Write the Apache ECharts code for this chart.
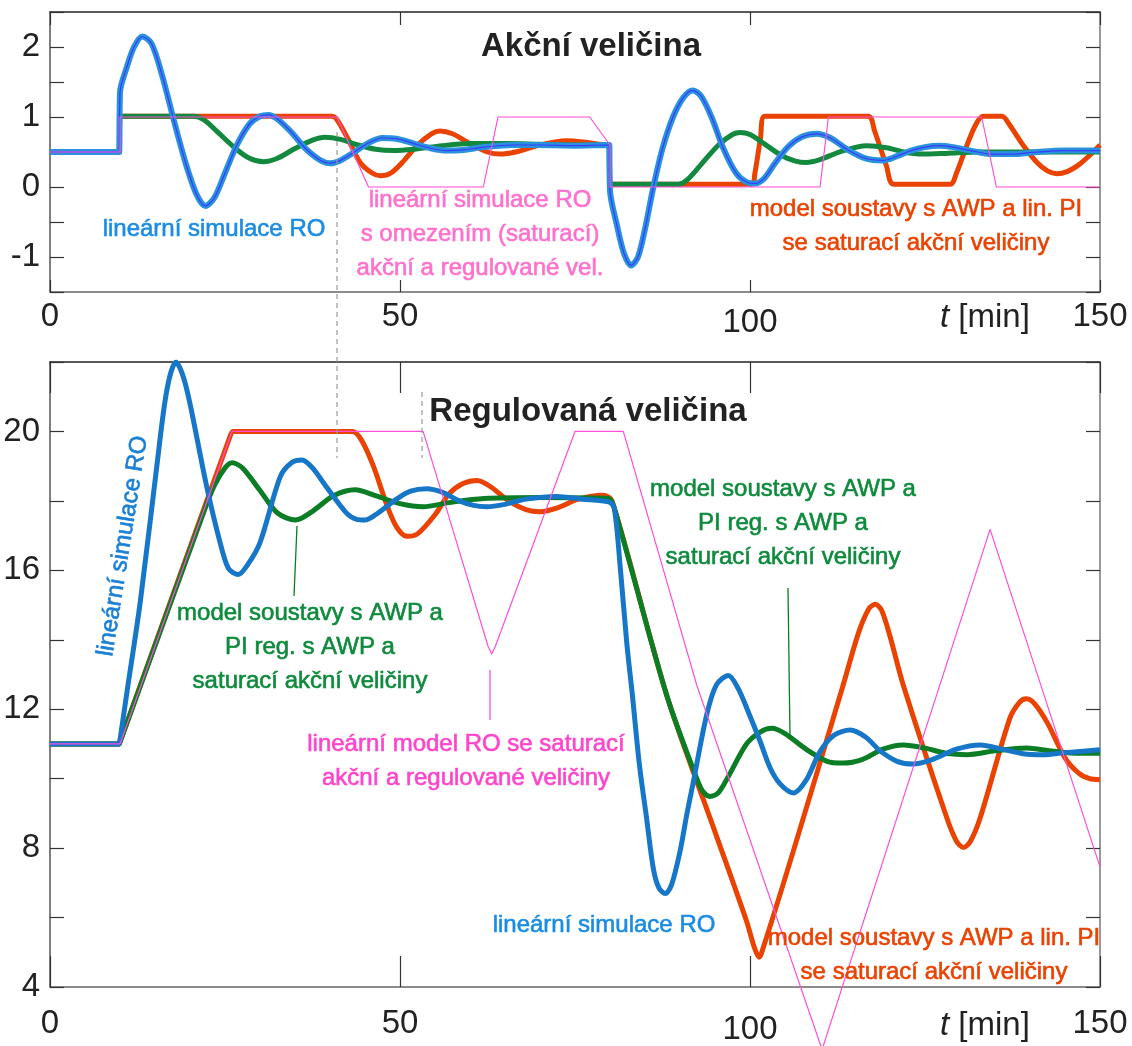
<!DOCTYPE html>
<html>
<head>
<meta charset="utf-8">
<script src="https://cdn.jsdelivr.net/npm/echarts@6/dist/echarts.min.js"></script>
<style>
  html, body { margin: 0; padding: 0; background: #fff; }
  #chart { width: 1132px; height: 1046px; }
</style>
</head>
<body>
<div id="chart"></div>
<script>
// time axis [min]
var tTicks = [0, 50, 100, 150];

// Akční veličina (top plot), points [t, u]
var uLin = [[0,0.5],[9.9,0.5],[10,0.5],[10,1.35],[11,1.72],[12,2.0],[13.2,2.15],[14.5,2.05],[16,1.6],[17.7,0.95],[19.5,0.3],[21,-0.12],[22.2,-0.27],[23.5,-0.15],[25,0.2],[26.7,0.6],[28.5,0.9],[30,1.01],[31.2,1.03],[32.5,0.97],[34.5,0.78],[36.5,0.55],[38.5,0.39],[40,0.34],[41.5,0.38],[43.5,0.5],[45.5,0.63],[47.5,0.7],[49.5,0.69],[52,0.62],[54.5,0.55],[56.7,0.52],[59,0.53],[62,0.57],[66,0.6],[70,0.6],[75,0.59],[79.9,0.6],[80,0.6],[80,-0.05],[81,-0.55],[82,-0.95],[83,-1.12],[84,-1.0],[85,-0.6],[86.2,0.0],[87.5,0.55],[89,1.0],[90.5,1.28],[91.8,1.38],[93,1.3],[94.5,1.0],[96.2,0.55],[98,0.2],[99.5,0.07],[100.7,0.05],[102,0.12],[103.5,0.33],[105.5,0.58],[107.5,0.72],[109.5,0.76],[111.5,0.7],[114,0.53],[116.5,0.41],[119,0.38],[121,0.44],[123,0.52],[125,0.57],[127,0.59],[129,0.57],[131.5,0.52],[134.5,0.47],[137.5,0.47],[141,0.5],[145,0.52],[150,0.52]];
var uAwp = [[0,0.5],[9.9,0.5],[10,0.5],[10,1.01],[20.5,1.01],[22,0.96],[24,0.78],[26.5,0.55],[28.5,0.41],[30.5,0.36],[32.5,0.41],[35,0.55],[37.5,0.67],[39.3,0.71],[41.5,0.68],[44,0.6],[46.5,0.54],[49,0.52],[52,0.54],[56,0.59],[60,0.62],[65,0.62],[70,0.61],[75,0.6],[79.9,0.6],[80,0.6],[80,0.04],[89.8,0.04],[91,0.1],[93,0.32],[95.5,0.6],[97.5,0.75],[98.6,0.78],[100,0.75],[102,0.62],[104.5,0.45],[106.5,0.37],[108,0.35],[110,0.39],[113,0.51],[116.7,0.59],[119.5,0.56],[122,0.5],[124.5,0.47],[128,0.48],[133,0.5],[140,0.5],[150,0.5]];
var uAwpLin = [[0,0.5],[9.9,0.5],[10,0.5],[10,1.01],[40.3,1.01],[41,0.96],[42.5,0.7],[44.3,0.35],[46,0.2],[47.2,0.16],[48.7,0.2],[50.5,0.37],[52.5,0.6],[54.5,0.76],[55.7,0.8],[57.5,0.76],[60,0.62],[62.5,0.5],[64.3,0.47],[66.5,0.5],[70,0.6],[73.8,0.66],[76.5,0.64],[79.9,0.6],[80,0.6],[80,0.04],[100.2,0.04],[100.7,0.2],[101.5,0.7],[102.1,1.01],[116.9,1.01],[117.8,0.8],[119.5,0.3],[120.5,0.04],[128.6,0.04],[129.5,0.2],[131,0.6],[132.3,0.9],[133.3,1.01],[136,1.01],[137,0.9],[139,0.6],[141,0.35],[142.5,0.23],[143.8,0.19],[145.3,0.22],[147,0.32],[148.5,0.45],[150,0.6]];
var uSat = [[0,0.5],[10,0.5],[10,1],[41,1],[45.5,0],[61.9,0],[64,1],[77.1,1],[80,0.6],[80,0],[110,0],[111.2,1],[133.1,1],[135.2,0],[150,0]];

// Regulovaná veličina (bottom plot), points [t, y]
var yLin = [[0,11],[9.9,11],[10,11],[11,12.5],[12.9,15.1],[15.2,18.9],[16.7,21.2],[18,22.0],[19,21.6],[20,20.8],[22.4,18.4],[24.3,16.8],[25.5,16.05],[26.9,15.88],[28.2,16.15],[30,16.8],[32.9,18.7],[34.5,19.1],[36,19.18],[37.5,18.95],[39.5,18.4],[42.4,17.64],[43.8,17.47],[45,17.45],[46.5,17.6],[49.5,18.05],[51.5,18.28],[53.8,18.35],[56,18.25],[58.5,18.0],[60.5,17.87],[62.4,17.83],[65,17.9],[68,18.05],[72.4,18.13],[76,18.05],[79.8,17.97],[80.6,17.8],[81.5,16.0],[82.4,13.9],[83.2,12.4],[84.2,10.4],[85.2,8.9],[86.2,7.4],[87,6.85],[87.9,6.69],[88.8,6.95],[90,7.9],[91,9.0],[91.9,9.9],[93.8,11.83],[95.2,12.7],[96.9,12.97],[98.3,12.6],[99.8,11.9],[101.4,11.1],[102.9,10.3],[104.3,9.85],[106.2,9.59],[108,9.95],[110,10.78],[112,11.25],[114.3,11.4],[116.5,11.2],[118.6,10.8],[121,10.5],[123.3,10.42],[126,10.55],[129.5,10.85],[132.9,10.97],[136,10.85],[139,10.72],[141.9,10.69],[145,10.75],[150,10.83]];
var yAwp = [[0,11],[9.9,11],[10,11],[22,17.7],[23.5,18.45],[25,18.95],[26,19.1],[27.5,18.95],[30,18.3],[32.5,17.65],[35.1,17.45],[37.5,17.7],[40.5,18.15],[43.6,18.32],[46.5,18.15],[50,17.92],[53.3,17.83],[57,17.95],[62,18.07],[70,18.1],[79.8,18.07],[80.6,17.8],[88.1,12.4],[92.4,10.0],[93.3,9.62],[94.3,9.49],[95.5,9.6],[97,10.1],[99.5,11.0],[101.5,11.35],[103.1,11.45],[105,11.3],[108,10.85],[111,10.5],[113.3,10.45],[116,10.55],[119,10.85],[121.9,10.97],[125,10.88],[128,10.73],[131,10.69],[135,10.8],[139.5,10.88],[143,10.8],[147,10.73],[150,10.73]];
var yAwpLin = [[0,11],[9.9,11],[10,11],[25.8,19.9],[26.2,20],[43.2,20],[44.5,19.75],[46.2,19.0],[48,17.95],[49.5,17.25],[51,16.98],[52.5,17.05],[55,17.6],[57,18.2],[59,18.5],[61,18.59],[63,18.4],[65.5,18.0],[68,17.75],[70,17.69],[72.5,17.8],[75.5,18.05],[79,18.16],[80.3,18.0],[88.1,12.4],[95,8.47],[99.5,5.9],[100.6,5.15],[101.3,4.86],[102,5.2],[106.2,7.92],[113.3,12.69],[115.5,14.2],[117,14.9],[117.9,15.02],[118.8,14.85],[120,14.1],[121.9,12.69],[128.1,8.88],[129.5,8.2],[130.5,8.02],[131.5,8.2],[132.9,8.88],[137.1,11.73],[138.5,12.2],[139.5,12.3],[140.7,12.15],[142.5,11.6],[145,10.6],[147,10.15],[148.5,10.0],[150,9.97]];
var ySat = [[0,11],[10,11],[26,20],[53.3,20],[62.6,13.8],[63.1,13.59],[63.6,13.8],[75,20],[81.9,20],[92.4,12.69],[110.3,2.2],[134.3,17.18],[150,7.46]];

var FONT = '"Liberation Sans", Arial, Helvetica, sans-serif';
var BLUE = '#2a92dc', BLUE2 = '#1677c8', ORANGE = '#ea4200', GREEN = '#13893f', GREEN2 = '#0b7d25', PINK = '#ff4fd8';

function xAx(grid, pos, tick, labels, margin) {
    return {
        type: 'value', gridIndex: grid, position: pos, min: 0, max: 150, interval: 50,
        axisLine: { show: true, onZero: false, lineStyle: { color: pos == 'top' ? '#222' : '#666', width: 1.5 } },
        axisTick: { show: true, inside: true, length: tick, lineStyle: { color: '#333', width: 1.2 } },
        axisLabel: {
            show: labels, fontSize: 33, color: '#222', fontFamily: FONT, margin: margin,
            showMinLabel: true, showMaxLabel: true,
            formatter: function (v) { return v == 100 ? '{d|100}' : String(v); },
            rich: { d: { fontSize: 33, color: '#222', fontFamily: FONT, padding: [6, 0, 0, 0] } }
        },
        splitLine: { show: false }
    };
}
function yAx(grid, pos, min, max, step, every) {
    return {
        type: 'value', gridIndex: grid, position: pos, min: min, max: max, interval: step,
        axisLine: { show: true, onZero: false, lineStyle: { color: pos == 'left' ? '#555' : '#777', width: 1.5 } },
        axisTick: { show: true, inside: true, length: 14, lineStyle: { color: '#333', width: 1.2 } },
        axisLabel: {
            show: pos == 'left', fontSize: 33, color: '#222', fontFamily: FONT, margin: 10,
            formatter: function (v) { return Math.abs(v / every - Math.round(v / every)) < 1e-9 ? String(v) : ''; }
        },
        splitLine: { show: false }
    };
}
function line(name, data, xi, yi, color, width, z, extra) {
    var s = {
        name: name, type: 'line', data: data, xAxisIndex: xi, yAxisIndex: yi,
        showSymbol: false, smooth: 0.3, z: z,
        lineStyle: { color: color, width: width, join: 'round' }, animation: false
    };
    for (var k in extra) s[k] = extra[k];
    return s;
}
// annotation text, a thin stroke of the same colour makes it as heavy as in the original
function txt(x, y, text, color, size, extra) {
    var e = {
        type: 'text', x: x, y: y, z: 100,
        style: { text: text, fill: color, stroke: color, lineWidth: 0.6, font: size + 'px ' + FONT,
                 align: 'center', verticalAlign: 'middle', textAlign: 'center', textVerticalAlign: 'middle', lineHeight: 34 }
    };
    for (var k in extra) e[k] = extra[k];
    return e;
}
function title(x, y, text) {
    return { type: 'text', x: x, y: y, z: 100,
             style: { text: text, fill: '#222', font: 'bold 33px ' + FONT, align: 'center', verticalAlign: 'middle',
                      textAlign: 'center', textVerticalAlign: 'middle' } };
}
function tLabel(x, y) {
    return { type: 'text', x: x, y: y, z: 100,
             style: { rich: { i: { fontStyle: 'italic', fontSize: 33, fontFamily: FONT, fill: '#222' } },
                      text: '{i|t} [min]', fill: '#222', font: '33px ' + FONT, verticalAlign: 'middle', textVerticalAlign: 'middle' } };
}
function seg(x1, y1, x2, y2, color, dash) {
    return { type: 'line', z: 90, shape: { x1: x1, y1: y1, x2: x2, y2: y2 },
             style: { stroke: color, lineWidth: dash ? 1.2 : 1.3, lineDash: dash ? [5, 4] : null } };
}

var chart = echarts.init(document.getElementById('chart'), null, { renderer: 'canvas' });
chart.setOption({
    backgroundColor: '#fff',
    animation: false,
    grid: [
        { left: 50, top: 12, width: 1050, height: 280 },
        { left: 50, top: 362, width: 1050, height: 632 }
    ],
    xAxis: [xAx(0, 'bottom', 12, true, 8), xAx(0, 'top', 13, false, 0),
            xAx(1, 'bottom', 31, true, 20), xAx(1, 'top', 31, false, 0)],
    yAxis: [yAx(0, 'left', -1.5, 2.5, 0.5, 1), yAx(0, 'right', -1.5, 2.5, 0.5, 1),
            yAx(1, 'left', 4, 22, 2, 4), yAx(1, 'right', 4, 22, 2, 4)],
    series: [
        line('uAwpLin', uAwpLin, 0, 0, ORANGE, 5, 2),
        line('uAwp', uAwp, 0, 0, GREEN, 5, 3),
        line('uLin', uLin, 0, 0, BLUE, 6, 4),
        line('uLin2', uLin, 0, 0, '#3a3aff', 1.2, 5),
        line('uSat', uSat, 0, 0, PINK, 1.2, 6, { smooth: false }),
        line('yAwpLin', yAwpLin, 2, 2, ORANGE, 5, 2),
        line('yAwp', yAwp, 2, 2, GREEN2, 5, 3),
        line('yLin', yLin, 2, 2, BLUE2, 5, 4),
        line('ySat', ySat, 2, 2, PINK, 1.2, 6, { smooth: false, clip: false })
    ],
    graphic: [
        title(591, 47, 'Akční veličina'),
        title(588, 412, 'Regulovaná veličina'),
        txt(214, 229, 'lineární simulace RO', '#1a8ce3', 24),
        txt(480, 234, 'lineární simulace RO\ns omezením (saturací)\nakční a regulované vel.', '#ff70cc', 24),
        txt(916, 226, 'model soustavy s AWP a lin. PI\nse saturací akční veličiny', ORANGE, 24),
        txt(123, 546, 'lineární simulace RO', '#1a80d6', 24, { rotation: 81 * Math.PI / 180 }),
        txt(310, 647, 'model soustavy s AWP a\nPI reg. s AWP a\nsaturací akční veličiny', '#0e8a3c', 24),
        txt(783, 523, 'model soustavy s AWP a\nPI reg. s AWP a\nsaturací akční veličiny', '#0e8a3c', 24),
        txt(466, 761, 'lineární model RO se saturací\nakční a regulované veličiny', '#ff44cc', 24),
        txt(604, 925, 'lineární simulace RO', '#1a8ce3', 24),
        txt(934, 955, 'model soustavy s AWP a lin. PI\nse saturací akční veličiny', ORANGE, 24),
        tLabel(940, 318),
        tLabel(940, 1026),
        seg(337, 132, 337, 458, '#999', true),
        seg(422, 392, 422, 458, '#999', true),
        seg(297, 526, 294, 596, GREEN2, false),
        seg(788, 588, 790, 737, GREEN2, false),
        seg(490, 670, 490, 720, PINK, false)
    ]
});
</script>
</body>
</html>
